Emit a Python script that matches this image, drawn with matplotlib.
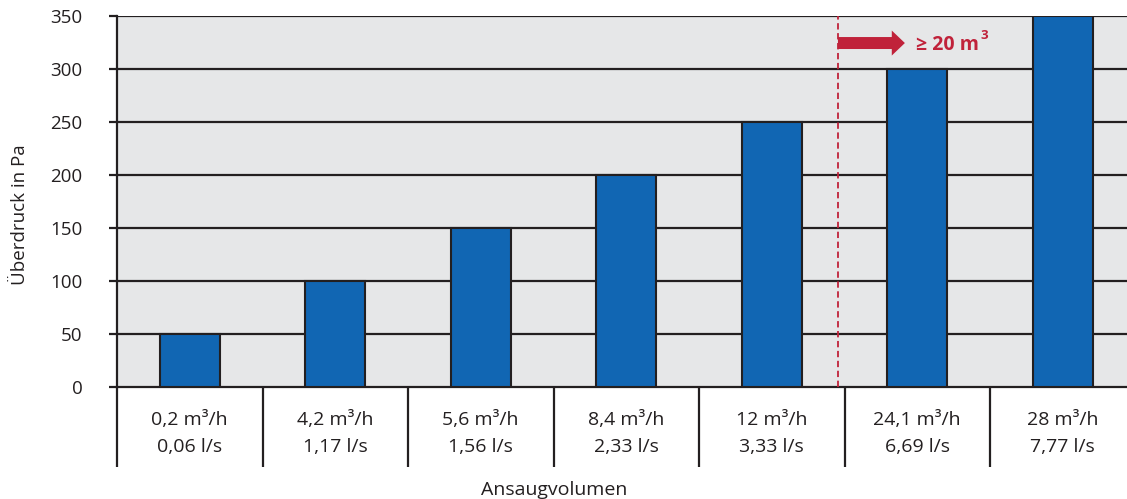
import matplotlib
matplotlib.use("Agg")
import matplotlib.pyplot as plt
from matplotlib.patches import FancyArrow

plt.rcParams['font.family'] = ['Open Sans', 'DejaVu Sans']

flow_m3h = ["0,2 m³/h", "4,2 m³/h", "5,6 m³/h", "8,4 m³/h", "12 m³/h", "24,1 m³/h", "28 m³/h"]
flow_ls = ["0,06 l/s", "1,17 l/s", "1,56 l/s", "2,33 l/s", "3,33 l/s", "6,69 l/s", "7,77 l/s"]
pressure = [50, 100, 150, 200, 250, 300, 350]
yticks = [0, 50, 100, 150, 200, 250, 300, 350]

dark = '#231F20'
red = '#C0223A'
blue = '#1166B3'
fs = 13.5

W, H = 1127, 499
fig = plt.figure(figsize=(W/100, H/100), dpi=100)
ax = fig.add_axes([117/W, (H-387)/H, (1127-117)/W, 371/H])
ax.set_facecolor('#E6E7E8')

n = len(pressure)
xs = list(range(n))
cat_px = 145.5
ax.set_xlim(-0.5, -0.5 + (1127-117)/cat_px)
ax.set_ylim(0, 350)

for y in yticks[1:]:
    ax.axhline(y, color=dark, lw=1.6, zorder=1)

ax.bar(xs, pressure, width=0.41, color=blue, edgecolor=dark, linewidth=1.5, zorder=3)

# dashed separator
ax.plot([4.455, 4.455], [0, 350], color=red, lw=1.3, dashes=(3.5, 2), zorder=4)
# arrow
ax.add_patch(FancyArrow(4.455, 324.5, 0.46, 0, width=11.3, head_width=23.6,
                        head_length=0.09, length_includes_head=True,
                        color=red, zorder=5, lw=0))
t = ax.text(4.99, 323, "≥ 20 m", color=red, fontsize=14, fontweight='bold',
            va='center', ha='left', zorder=5)
ax.annotate("3", xy=(1.0, 0.95), xycoords=t, xytext=(1.5, 0), textcoords='offset points',
            color=red, fontsize=9.5, fontweight='bold', va='center', ha='left', zorder=5)

for s in ['top', 'right']:
    ax.spines[s].set_visible(False)
for s in ['left', 'bottom']:
    ax.spines[s].set_color(dark)
    ax.spines[s].set_linewidth(1.6)

ax.set_yticks(yticks)
ax.tick_params(axis='y', length=6, width=1.6, color=dark, pad=19, labelsize=fs, labelcolor=dark)

# x: dividers as major ticks, labels on minor ticks
ax.set_xticks([i - 0.5 for i in range(n)])
ax.set_xticklabels([])
ax.tick_params(axis='x', which='major', length=57.6, width=1.6, color=dark)
ax.set_xticks(xs, minor=True)
ax.set_xticklabels([f"{a}\n{b}" for a, b in zip(flow_m3h, flow_ls)], minor=True,
                   linespacing=1.7)
ax.tick_params(axis='x', which='minor', length=0, pad=17, labelsize=14, labelcolor=dark)

fig.text(20/W, 1 - 215/H, "Überdruck in Pa", rotation=90, ha='center', va='center',
         fontsize=fs, color=dark)
fig.text(554/W, 1 - 490/H, "Ansaugvolumen", ha='center', va='center', fontsize=14, color=dark)

fig.savefig("out.png", dpi=100)
